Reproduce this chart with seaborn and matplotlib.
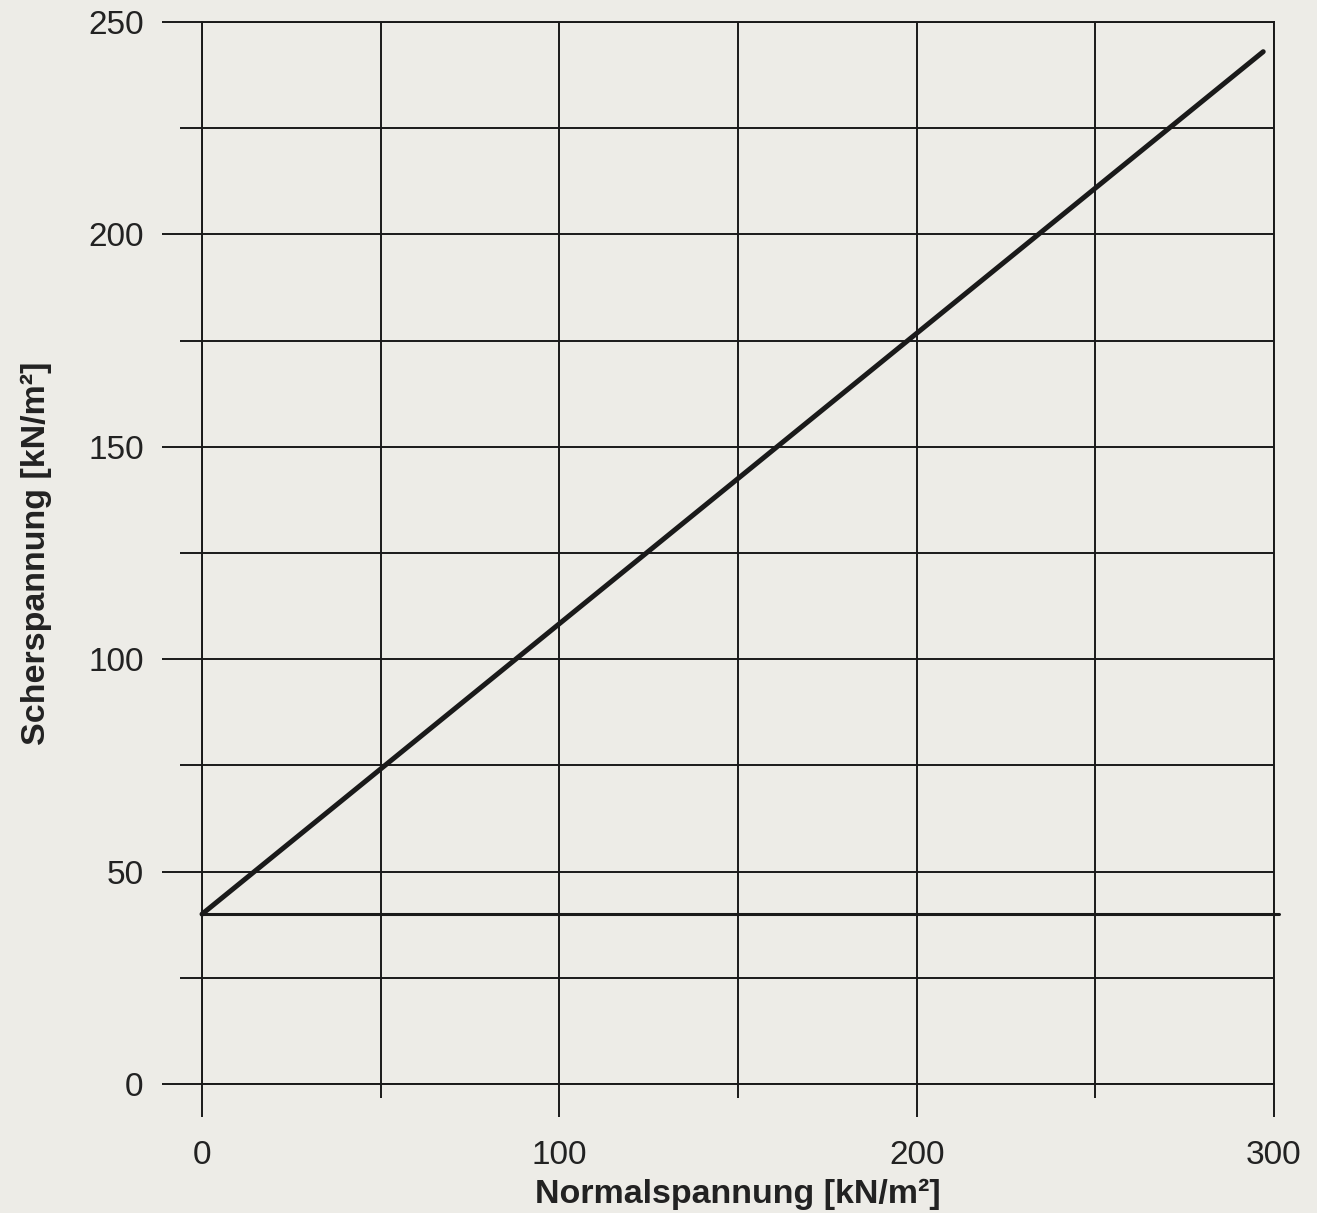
import numpy as np
import pandas as pd
import matplotlib
matplotlib.use("Agg")
import matplotlib.pyplot as plt
from matplotlib.ticker import MultipleLocator
import seaborn as sns

# Mohr-Coulomb failure line: cohesion 40 kN/m², friction angle ~34°
sigma_line = [0, 297]
tau_line = [40, 243]

# cohesion level (horizontal reference)
sigma_coh = [0, 301.5]
tau_coh = [40, 40]

x_ticks = [0, 100, 200, 300]
y_ticks = [0, 50, 100, 150, 200, 250]

sns.set_theme(style="white")
plt.rcParams["font.family"] = ["Liberation Sans", "DejaVu Sans"]

bg = "#edece7"
ink = "#1a1a1a"
txt = "#222222"

fig = plt.figure(figsize=(13.17, 12.13), dpi=100, facecolor=bg)
ax = fig.add_axes([0.1534, 0.1063, 0.8139, 0.8756])
ax.set_facecolor(bg)

df_line = pd.DataFrame({"sigma": sigma_line, "tau": tau_line})
df_coh = pd.DataFrame({"sigma": sigma_coh, "tau": tau_coh})
sns.lineplot(data=df_coh, x="sigma", y="tau", ax=ax, color=ink, lw=2.2,
             clip_on=False, zorder=3)
sns.lineplot(data=df_line, x="sigma", y="tau", ax=ax, color=ink, lw=3.6,
             solid_capstyle="round", clip_on=False, zorder=4)

ax.set_xlim(0, 300)
ax.set_ylim(0, 250)
ax.set_xticks(x_ticks)
ax.set_yticks(y_ticks)
ax.xaxis.set_minor_locator(MultipleLocator(50))
ax.yaxis.set_minor_locator(MultipleLocator(25))

ax.grid(which="both", color=ink, lw=1.4)
for s in ax.spines.values():
    s.set_color(ink)
    s.set_linewidth(1.4)

ax.tick_params(axis="y", which="major", direction="out", length=29, width=1.4,
               color=ink, pad=13, labelsize=24, labelcolor=txt, left=True)
ax.tick_params(axis="y", which="minor", direction="out", length=16, width=1.4,
               color=ink, left=True)
ax.tick_params(axis="x", which="major", direction="out", length=24, width=1.4,
               color=ink, pad=16, labelsize=24, labelcolor=txt, bottom=True)
ax.tick_params(axis="x", which="minor", direction="out", length=10, width=1.4,
               color=ink, bottom=True)

ax.set_xlabel("Normalspannung [kN/m²]", fontsize=24.5, fontweight="bold",
              color=txt, labelpad=6)
ax.set_ylabel("Scherspannung [kN/m²]", fontsize=24.5, fontweight="bold",
              color=txt, labelpad=26)

fig.savefig("out.png", dpi=100, facecolor=bg)
